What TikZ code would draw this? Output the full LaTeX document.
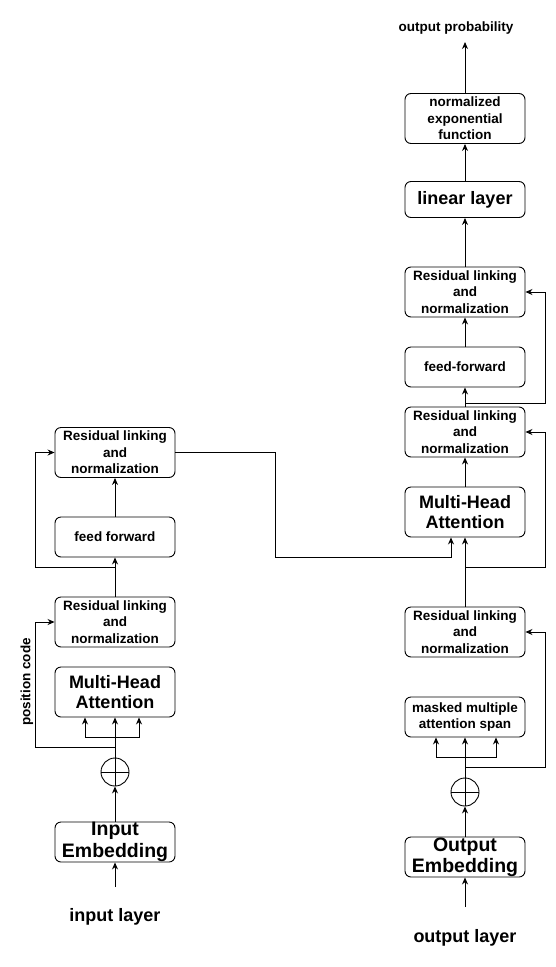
\documentclass[tikz,border=0pt]{standalone}
\usepackage{fontspec}
\setmainfont{Liberation Sans}
\usepackage{xcolor}
\usepackage{tikz}
\usetikzlibrary{arrows.meta}
\definecolor{inkmain}{HTML}{000000}
\definecolor{paperbg}{HTML}{FFFFFF}
\tikzset{every node/.append style={font=\bfseries}}
\tikzset{
  block/.style={draw=inkmain,line width=0.9pt,rounded corners=6pt,
    minimum width=120pt,inner sep=0pt,align=center},
  txtsmall/.style={font=\bfseries\fontsize{13.5}{16.5}\selectfont},
  txtbig/.style={font=\bfseries\fontsize{18}{20}\selectfont},
  txtemb/.style={font=\bfseries\fontsize{19.5}{21.5}\selectfont},
  addnode/.style={draw=inkmain,line width=0.9pt,circle,minimum size=28pt,inner sep=0pt},
  flow/.style={draw=inkmain,line width=0.9pt,-{Stealth[length=7pt,width=6pt]}},
  wire/.style={draw=inkmain,line width=0.9pt}
}

\begin{document}
\begin{tikzpicture}[x=1pt,y=-1pt]
  \fill[paperbg] (0,0) rectangle (555,967);
  \useasboundingbox (0,0) rectangle (555,967);

  % encoder side
  \node[block,txtsmall,minimum height=50pt] (resA) at (115,452.5)
    {Residual linking\\and\\normalization};
  \node[block,txtsmall,minimum height=40pt] (ffL) at (115,537) {feed forward};
  \node[block,txtsmall,minimum height=50pt] (resB) at (115,622)
    {Residual linking\\and\\normalization};
  \node[block,txtbig,minimum height=50pt] (mhaL) at (115,692)
    {Multi-Head\\Attention};
  \node[addnode] (addL) at (115,772) {};
  \node[block,txtemb,minimum height=40pt] (embL) at (115,842)
    {Input\\Embedding};
  \node[txtbig] (inL) at (115,917) {input layer};
  \node[txtsmall,rotate=90] (posL) at (27,682) {position code};
  \coordinate (inTail) at (115,887);
  \coordinate (splitL) at (115,737);
  \coordinate (skipL1) at (115,747);
  \coordinate (skipL2) at (115,567);

  % decoder side
  \node[txtsmall] (outP) at (456,28) {output probability};
  \coordinate (outHead) at (465,42);
  \node[block,txtsmall,minimum height=50pt] (softR) at (465,118.5)
    {normalized\\exponential\\function};
  \node[block,txtbig,minimum height=36pt] (linR) at (465,199.5) {linear layer};
  \node[block,txtsmall,minimum height=50pt] (resR3) at (465,292)
    {Residual linking\\and\\normalization};
  \node[block,txtsmall,minimum height=40pt] (ffR) at (465,367) {feed-forward};
  \node[block,txtsmall,minimum height=50pt] (resR2) at (465,432)
    {Residual linking\\and\\normalization};
  \node[block,txtbig,minimum height=50pt] (mhaR) at (465,512)
    {Multi-Head\\Attention};
  \node[block,txtsmall,minimum height=50pt] (resR1) at (465,632)
    {Residual linking\\and\\normalization};
  \node[block,txtsmall,minimum height=40pt] (maskR) at (465,717)
    {masked multiple\\attention span};
  \node[addnode] (addR) at (465,792) {};
  \node[block,txtemb,minimum height=40pt] (embR) at (465,857)
    {Output\\Embedding};
  \node[txtbig] (outL) at (465,938) {output layer};
  \coordinate (outTail) at (465,907);
  \coordinate (splitR) at (465,757);
  \coordinate (skipR1) at (465,767);
  \coordinate (skipR2) at (465,567);
  \coordinate (skipR3) at (465,403);

  % encoder connectors
  \draw[flow] (inTail) -- (embL);
  \draw[flow] (embL) -- (addL);
  \draw[wire] (addL.west) -- (addL.east);
  \draw[wire] (addL.south) -- (addL.north);
  \draw[flow] (addL) -- (mhaL);
  \draw[flow] (splitL) -| ([xshift=-30pt]mhaL.south);
  \draw[flow] (splitL) -| ([xshift=24pt]mhaL.south);
  \draw[flow] (skipL1) -- ++(-80,0) |- (resB.west);
  \draw[flow] (resB) -- (ffL);
  \draw[flow] (skipL2) -- ++(-80,0) |- (resA.west);
  \draw[flow] (ffL) -- (resA);
  \draw[flow] (resA.east) -| (275,557) -| ([xshift=-14pt]mhaR.south);

  % decoder connectors
  \draw[flow] (outTail) -- (embR);
  \draw[flow] (embR) -- (addR);
  \draw[wire] (addR.west) -- (addR.east);
  \draw[wire] (addR.south) -- (addR.north);
  \draw[flow] (addR) -- (maskR);
  \draw[flow] (splitR) -| ([xshift=-29pt]maskR.south);
  \draw[flow] (splitR) -| ([xshift=31pt]maskR.south);
  \draw[flow] (skipR1) -- ++(80,0) |- (resR1.east);
  \draw[flow] (resR1) -- (mhaR);
  \draw[flow] (skipR2) -- ++(80,0) |- (resR2.east);
  \draw[flow] (mhaR) -- (resR2);
  \draw[flow] (resR2) -- (ffR);
  \draw[flow] (skipR3) -- ++(80,0) |- (resR3.east);
  \draw[flow] (ffR) -- (resR3);
  \draw[flow] (resR3) -- (linR);
  \draw[flow] (linR) -- (softR);
  \draw[flow] (softR) -- (outHead);
\end{tikzpicture}
\end{document}
